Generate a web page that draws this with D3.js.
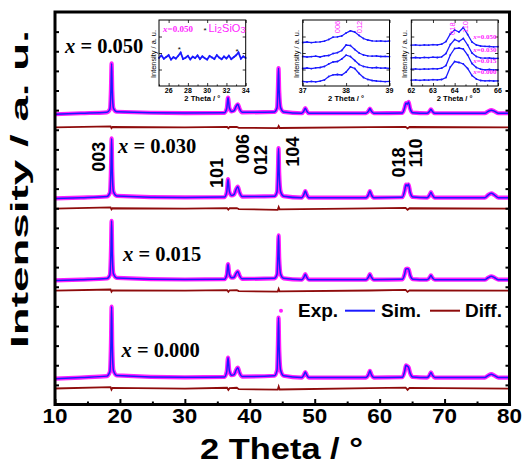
<!DOCTYPE html>
<html>
<head>
<meta charset="utf-8">
<script src="https://cdn.jsdelivr.net/npm/d3@7"></script>
<style>
    body { margin: 0; background: #ffffff; }
    svg  { display: block; }
</style>
</head>
<body>
<svg id="my_svg_element" width="525" height="465"></svg>
<script>
// ---------------------------  DATA  ---------------------------
// Rietveld refinement of four samples; one fitted profile per sample
const sample_names  = ["0.000", "0.015", "0.030", "0.050"];
const base_offsets  = [6.87, 31.8, 52.7, 74.2];     // vertical stacking of Exp./Sim.
const diff_offsets  = [4.07, 29.0, 49.9, 70.6];     // vertical stacking of Diff.

const two_theta = [10, 14, 18.0, 18.45, 18.62, 18.72, 18.82, 19.0, 19.5, 30,
    36.1, 36.45, 36.65, 36.85, 37.2, 37.6, 37.85, 38.15, 38.45, 38.8,
    43.8, 44.2, 44.33, 44.43, 44.53, 44.75, 45.2,
    48.0, 48.35, 48.55, 48.75, 49.1,
    57.9, 58.3, 58.5, 58.7, 59.1,
    63.5, 63.85, 64.05, 64.25, 64.45, 64.7, 65.1,
    67.3, 67.7, 67.9, 68.1, 68.5,
    76.2, 76.7, 77.2, 77.7, 78.3, 80];

const profile_000 = [-0.3, 0, 0.36, 1.45, 9.05, 18.1, 8.15, 1.81, 0.54, 0.05,
    0.15, 1.53, 5.1, 1.79, 0.6, 0.75, 1.75, 2.5, 1.13, 0.25,
    0.46, 1.84, 8.4, 15.3, 7.65, 1.84, 0.46,
    0, 0.7, 1.4, 0.7, 0,
    0, 0.85, 1.7, 0.85, 0,
    0.09, 1.55, 3.1, 2.9, 2.6, 1.1, 0.15,
    0, 0.65, 1.3, 0.65, 0,
    0, 0.5, 0.85, 0.5, 0, 0];

const profile_015 = [-0.2, 0, 0.3, 1.2, 7.5, 15.0, 6.75, 1.5, 0.45, 0.05,
    0.12, 1.2, 4.0, 1.4, 0.5, 0.63, 1.47, 2.1, 0.95, 0.21,
    0.34, 1.36, 6.2, 11.3, 5.65, 1.36, 0.34,
    0, 0.7, 1.4, 0.7, 0,
    0, 0.7, 1.4, 0.7, 0,
    0.08, 1.4, 2.75, 2.8, 2.75, 1.12, 0.14,
    0, 0.55, 1.1, 0.55, 0,
    0, 0.5, 0.85, 0.5, 0, 0];

const profile_030 = [-0.2, 0, 0.3, 1.21, 7.55, 15.1, 6.8, 1.51, 0.45, 0.05,
    0.14, 1.41, 4.7, 1.65, 0.56, 0.84, 1.96, 2.8, 1.26, 0.28,
    0.38, 1.51, 6.93, 12.6, 6.3, 1.51, 0.38,
    0, 0.85, 1.7, 0.85, 0,
    0, 0.85, 1.7, 0.85, 0,
    0.1, 1.7, 3.3, 3.0, 3.4, 1.36, 0.17,
    0, 0.7, 1.4, 0.7, 0,
    0, 0.66, 1.1, 0.66, 0, 0];

const profile_050 = [-0.25, 0, 0.25, 1.02, 6.35, 12.7, 5.72, 1.27, 0.38, 0.05,
    0.12, 1.2, 4.0, 1.4, 0.48, 0.69, 1.61, 2.3, 1.04, 0.23,
    0.35, 1.38, 6.33, 11.5, 5.75, 1.38, 0.35,
    0, 0.65, 1.3, 0.65, 0,
    0, 0.6, 1.2, 0.6, 0,
    0.09, 1.4, 2.6, 2.3, 2.9, 1.16, 0.15,
    0, 0.5, 1.0, 0.5, 0,
    0, 0.48, 0.8, 0.48, 0, 0];

const diff_theta = [10, 18.55, 18.7, 18.85, 30, 36.5, 36.7, 36.9, 38.0, 38.3, 44.3, 44.45, 44.6, 58.5, 64.0, 64.3, 64.6, 80];
const diff_000 = [0, 0.35, -0.3, 0.15, 0, 0.2, -0.35, 0.1, 0.2, -0.15, -0.3, 0.5, -0.25, 0.1, 0.25, -0.35, 0.15, 0];
const diff_015 = [0, 0.3, -0.25, 0.1, 0, 0.15, -0.3, 0.1, 0.15, -0.1, -0.25, 0.45, -0.2, 0.05, 0.2, -0.3, 0.1, 0];
const diff_030 = [0, 0.3, -0.2, 0.1, 0, 0.15, -0.25, 0.1, 0.15, -0.1, -0.3, 0.4, -0.2, 0.05, 0.2, -0.3, 0.1, 0];
const diff_050 = [0, 0.25, -0.2, 0.1, 0, 0.15, -0.2, 0.1, 0.1, -0.1, -0.2, 0.35, -0.15, 0.05, 0.15, -0.25, 0.1, 0];

const hkl_labels = ["003", "101", "006", "012", "104", "018", "110"];
const x_major_ticks = [10, 20, 30, 40, 50, 60, 70, 80];
const x_minor_ticks = [15, 25, 35, 45, 55, 65, 75];

// Inset 1: Li2SiO3 impurity scan of x = 0.050
const li_theta = [25, 25.25, 25.5, 25.75, 26, 26.25, 26.5, 26.75, 27, 27.25, 27.5, 27.75, 28, 28.25, 28.5, 28.75,
    29, 29.25, 29.5, 29.75, 30, 30.25, 30.5, 30.75, 31, 31.25, 31.5, 31.75, 32, 32.25, 32.5, 32.75,
    33, 33.25, 33.5, 33.75, 34];
const li_counts = [28.0, 30.5, 27.2, 29.0, 30.8, 26.4, 28.9, 27.5, 30.2, 33.4, 27.0, 28.2, 30.1, 26.6, 29.4, 28.0,
    30.6, 26.9, 29.7, 27.8, 26.5, 30.0, 28.6, 27.1, 30.9, 28.4, 26.8, 29.5, 27.6, 30.4, 26.9, 28.8,
    30.7, 33.5, 27.3, 29.6, 28.1];
const li_marks = [[27.1, 37.0], [33.1, 35.5]];

// Inset 2: 006 / 012 region
const theta_0012 = [37.0, 37.1, 37.2, 37.3, 37.4, 37.5, 37.6, 37.7, 37.8, 37.9, 38.0,
    38.1, 38.2, 38.3, 38.4, 38.5, 38.6, 38.7, 38.8, 38.9, 39.0];
const zoom_0012_050 = [43.5, 44.0, 43.4, 43.9, 44.2, 44.8, 46.5, 48.8, 49.2, 50.0, 53.0, 55.2, 54.0, 50.5, 47.5, 46.0, 45.2, 44.8, 45.1, 44.7, 45.0];
const zoom_0012_030 = [29.5, 29.0, 29.4, 29.8, 29.0, 30.2, 30.5, 32.5, 33.3, 35.5, 41.0, 40.5, 36.5, 33.0, 31.0, 30.2, 29.8, 30.0, 29.5, 29.7, 29.4];
const zoom_0012_015 = [17.5, 18.0, 17.4, 18.2, 18.5, 19.5, 22.0, 24.0, 24.5, 27.0, 30.8, 29.5, 25.5, 21.5, 19.5, 18.7, 18.2, 18.5, 17.8, 18.0, 17.6];
const zoom_0012_000 = [4.5, 4.1, 4.6, 4.2, 4.8, 6.0, 9.5, 11.2, 11.5, 11.0, 14.0, 19.2, 17.5, 12.5, 8.5, 6.5, 5.5, 5.0, 4.7, 4.4, 4.6];

// Inset 3: 018 / 110 region
const theta_0181 = [62.0, 62.2, 62.4, 62.6, 62.8, 63.0, 63.2, 63.4, 63.6, 63.8, 64.0,
    64.2, 64.4, 64.6, 64.8, 65.0, 65.2, 65.4, 65.6, 65.8, 66.0];
const zoom_0181_050 = [40.8, 41.2, 40.7, 41.1, 40.8, 41.4, 41.1, 41.8, 44.5, 52.0, 56.0, 54.0, 58.5, 51.5, 44.0, 41.0, 40.0, 39.7, 39.5, 39.2, 39.3];
const zoom_0181_030 = [28.2, 28.5, 28.1, 28.6, 28.3, 28.8, 28.5, 29.2, 32.5, 41.5, 46.5, 44.5, 47.5, 41.0, 33.0, 29.5, 28.2, 27.8, 28.0, 27.5, 27.7];
const zoom_0181_015 = [16.8, 17.2, 16.7, 17.1, 16.9, 17.4, 17.1, 17.8, 20.5, 31.0, 37.5, 38.0, 37.0, 31.0, 22.5, 18.5, 16.8, 16.2, 16.5, 16.0, 16.2];
const zoom_0181_000 = [5.8, 6.2, 5.7, 6.1, 5.9, 6.4, 6.1, 6.5, 8.5, 19.0, 24.5, 23.5, 22.0, 17.5, 10.5, 7.0, 5.5, 5.2, 5.4, 5.0, 5.2];

// ---------------------------  STYLE  ---------------------------
const EXP_COLOR  = "#ff1eff";
const SIM_COLOR  = "#1a1aff";
const DIFF_COLOR = "#8e0b0b";
const SANS  = "'Liberation Sans', Arial, sans-serif";
const SERIF = "'Liberation Serif', 'Times New Roman', serif";

const svg = d3.select("#my_svg_element");
const plot = { left: 55, right: 509.5, top: 12, bottom: 404.5 };

// Build the main scales
const x_scale = d3.scaleLinear().domain([10, 80]).range([plot.left, plot.right]);
const y_scale = d3.scaleLinear().domain([0, 100]).range([plot.bottom, plot.top]);

svg.append("defs").append("clipPath").attr("id", "plot_clip")
   .append("rect")
   .attr("x", plot.left).attr("y", plot.top)
   .attr("width", plot.right - plot.left).attr("height", plot.bottom - plot.top);

const curves = svg.append("g").attr("clip-path", "url(#plot_clip)");

const profiles = [profile_000, profile_015, profile_030, profile_050];
const diffs    = [diff_000, diff_015, diff_030, diff_050];

profiles.forEach(function(profile, i) {
    const pts  = two_theta.map((t, k) => [t, profile[k]]);
    const dpts = diff_theta.map((t, k) => [t, diffs[i][k]]);
    const line = d3.line()
        .x(d => x_scale(d[0]))
        .y(d => y_scale(d[1] + base_offsets[i]))
        .curve(d3.curveMonotoneX);
    const dline = d3.line()
        .x(d => x_scale(d[0]))
        .y(d => y_scale(d[1] + diff_offsets[i]));

    // Diff.
    curves.append("path").attr("d", dline(dpts))
          .attr("fill", "none").attr("stroke", DIFF_COLOR).attr("stroke-width", 1.8);
    // Exp. (dense points -> magenta band)
    curves.append("path").attr("d", line(pts))
          .attr("fill", "none").attr("stroke", EXP_COLOR).attr("stroke-width", 4.2)
          .attr("stroke-linejoin", "round").attr("stroke-linecap", "round");
    // Sim.
    curves.append("path").attr("d", line(pts))
          .attr("fill", "none").attr("stroke", SIM_COLOR).attr("stroke-width", 1.5)
          .attr("stroke-linejoin", "round");
});

// Sample labels  "x = 0.xxx"
const sample_label_pos = [[121.5, 357], [123, 261], [118, 153], [65, 53]];
sample_names.forEach(function(name, i) {
    const t = svg.append("text")
        .attr("x", sample_label_pos[i][0]).attr("y", sample_label_pos[i][1])
        .attr("font-family", SERIF).attr("font-weight", "bold").attr("font-size", 20.5)
        .attr("fill", "#000");
    t.append("tspan").attr("font-style", "italic").text("x");
    t.append("tspan").text(" = " + name);
});

// Miller indices, rotated
const hkl_pos = [[104.8, 156.7], [223.2, 173], [248.8, 149], [266.5, 160], [299.2, 151.7], [404.8, 162.5], [421.5, 153]];
hkl_labels.forEach(function(lbl, i) {
    svg.append("text")
       .attr("transform", `translate(${hkl_pos[i][0]},${hkl_pos[i][1]}) rotate(-90)`)
       .attr("text-anchor", "middle")
       .attr("font-family", SANS).attr("font-weight", "bold").attr("font-size", 18)
       .text(lbl);
});

// Legend
const legend = svg.append("g").attr("font-family", SANS).attr("font-weight", "bold").attr("font-size", 19);
legend.append("circle").attr("cx", 281).attr("cy", 310.7).attr("r", 2).attr("fill", EXP_COLOR);
legend.append("text").attr("x", 298).attr("y", 317).text("Exp.");
legend.append("line").attr("x1", 345).attr("x2", 375).attr("y1", 310.7).attr("y2", 310.7)
      .attr("stroke", SIM_COLOR).attr("stroke-width", 2);
legend.append("text").attr("x", 381).attr("y", 317).text("Sim.");
legend.append("line").attr("x1", 430).attr("x2", 460).attr("y1", 310.7).attr("y2", 310.7)
      .attr("stroke", DIFF_COLOR).attr("stroke-width", 2);
legend.append("text").attr("x", 465).attr("y", 317).text("Diff.");

// ---------------------------  INSETS  ---------------------------
function draw_inset(cfg) {
    const g = svg.append("g");
    const ix = d3.scaleLinear().domain(cfg.x_domain).range([cfg.left, cfg.right]);
    const iy = d3.scaleLinear().domain([0, 66]).range([cfg.bottom, cfg.top]);

    g.append("rect").attr("x", cfg.left).attr("y", cfg.top)
     .attr("width", cfg.right - cfg.left).attr("height", cfg.bottom - cfg.top)
     .attr("fill", "#fff");

    const iline = d3.line().x(d => ix(d[0])).y(d => iy(d[1]));
    cfg.series.forEach(function(vals) {
        const pts = cfg.theta.map((t, k) => [t, vals[k]]);
        g.append("path").attr("d", iline(pts))
         .attr("fill", "none").attr("stroke", SIM_COLOR).attr("stroke-width", cfg.line_width);
        g.selectAll(null).data(pts).join("circle")
         .attr("cx", d => ix(d[0])).attr("cy", d => iy(d[1])).attr("r", 0.9)
         .attr("fill", SIM_COLOR);
    });

    // Axes: ticks point inward on all four sides
    const bottom_axis = d3.axisBottom(ix).tickValues(cfg.major).tickSizeInner(-3).tickSizeOuter(0).tickFormat("");
    const bottom_minor = d3.axisBottom(ix).tickValues(cfg.minor).tickSizeInner(-1.6).tickSizeOuter(0).tickFormat("");
    const top_axis = d3.axisTop(ix).tickValues(cfg.major).tickSizeInner(-3).tickSizeOuter(0).tickFormat("");
    const left_axis = d3.axisLeft(iy).tickValues([16.5, 33, 49.5]).tickSizeInner(-3).tickSizeOuter(0).tickFormat("");
    const right_axis = d3.axisRight(iy).tickValues([16.5, 33, 49.5]).tickSizeInner(-3).tickSizeOuter(0).tickFormat("");
    g.append("g").attr("transform", `translate(0,${cfg.bottom})`).call(bottom_axis);
    g.append("g").attr("transform", `translate(0,${cfg.bottom})`).call(bottom_minor);
    g.append("g").attr("transform", `translate(0,${cfg.top})`).call(top_axis);
    g.append("g").attr("transform", `translate(${cfg.left},0)`).call(left_axis);
    g.append("g").attr("transform", `translate(${cfg.right},0)`).call(right_axis);
    g.selectAll(".domain").remove();
    g.selectAll(".tick line").attr("stroke", "#000").attr("stroke-width", 0.8);

    g.append("rect").attr("x", cfg.left).attr("y", cfg.top)
     .attr("width", cfg.right - cfg.left).attr("height", cfg.bottom - cfg.top)
     .attr("fill", "none").attr("stroke", "#000").attr("stroke-width", 1);

    // Tick labels
    g.selectAll(null).data(cfg.major).join("text")
     .attr("x", d => ix(d)).attr("y", cfg.bottom + 6.5)
     .attr("text-anchor", "middle")
     .attr("font-family", SANS).attr("font-weight", "bold").attr("font-size", 7)
     .text(d => d);

    g.append("text").attr("x", (cfg.left + cfg.right) / 2).attr("y", cfg.bottom + 15)
     .attr("text-anchor", "middle")
     .attr("font-family", SANS).attr("font-weight", "bold").attr("font-size", 7.6)
     .text("2 Theta / \u00B0");

    g.append("text")
     .attr("transform", `translate(${cfg.ylabel_x},${(cfg.top + cfg.bottom) / 2 + 1}) rotate(-90)`)
     .attr("text-anchor", "middle")
     .attr("font-family", SANS).attr("font-size", 7.4)
     .text("Intensity / a. u.");

    return { g: g, ix: ix, iy: iy };
}

// Inset 1 : Li2SiO3
const inset1 = draw_inset({
    left: 159, right: 245.7, top: 20, bottom: 86, x_domain: [25, 34],
    theta: li_theta, series: [li_counts], line_width: 1.8,
    major: [26, 28, 30, 32, 34], minor: [25, 27, 29, 31, 33], ylabel_x: 155.5
});
inset1.g.selectAll(null).data(li_marks).join("text")
    .attr("x", d => inset1.ix(d[0])).attr("y", d => inset1.iy(d[1]) + 3)
    .attr("text-anchor", "middle").attr("font-family", SANS).attr("font-size", 8)
    .text("*");
const inset1_title = inset1.g.append("text").attr("x", 163).attr("y", 31.5)
    .attr("font-family", SERIF).attr("font-weight", "bold").attr("font-size", 9)
    .attr("fill", EXP_COLOR);
inset1_title.append("tspan").attr("font-style", "italic").text("x");
inset1_title.append("tspan").text("=0.050");
inset1.g.append("text").attr("x", 203.5).attr("y", 33).attr("font-family", SANS)
    .attr("font-size", 8).text("*");
const li_text = inset1.g.append("text").attr("x", 208.5).attr("y", 31.5)
    .attr("font-family", SANS).attr("font-size", 11).attr("fill", EXP_COLOR);
li_text.append("tspan").text("Li");
li_text.append("tspan").attr("font-size", 9).attr("dy", 1.5).text("2");
li_text.append("tspan").attr("dy", -1.5).text("SiO");
li_text.append("tspan").attr("font-size", 9).attr("dy", 1.5).text("3");

// Inset 2 : 006 / 012
const inset2 = draw_inset({
    left: 302.7, right: 389.5, top: 20, bottom: 86, x_domain: [37, 39],
    theta: theta_0012, series: [zoom_0012_050, zoom_0012_030, zoom_0012_015, zoom_0012_000], line_width: 1.3,
    major: [37, 38, 39], minor: [37.5, 38.5], ylabel_x: 298.5
});
[["006", 37.8], ["012", 38.3]].forEach(function(d) {
    inset2.g.append("text")
        .attr("transform", `translate(${inset2.ix(d[1]) + 2.6},27) rotate(-90)`)
        .attr("text-anchor", "middle").attr("font-family", SANS).attr("font-size", 7.5)
        .attr("fill", EXP_COLOR).text(d[0]);
});

// Inset 3 : 018 / 110
const inset3 = draw_inset({
    left: 411.3, right: 498, top: 20, bottom: 86, x_domain: [62, 66],
    theta: theta_0181, series: [zoom_0181_050, zoom_0181_030, zoom_0181_015, zoom_0181_000], line_width: 1.3,
    major: [62, 63, 64, 65, 66], minor: [62.5, 63.5, 64.5, 65.5], ylabel_x: 406.5
});
[["018", 63.9, 28.7], ["110", 64.5, 27]].forEach(function(d) {
    inset3.g.append("text")
        .attr("transform", `translate(${inset3.ix(d[1]) + 2.6},${d[2]}) rotate(-90)`)
        .attr("text-anchor", "middle").attr("font-family", SANS).attr("font-size", 7.5)
        .attr("fill", EXP_COLOR).text(d[0]);
});
const inset3_label_y = [74, 63.3, 51.7, 39.3];
sample_names.forEach(function(name, i) {
    const t = inset3.g.append("text").attr("x", 496.5).attr("y", inset3_label_y[i])
        .attr("text-anchor", "end")
        .attr("font-family", SERIF).attr("font-weight", "bold").attr("font-size", 7)
        .attr("fill", EXP_COLOR);
    t.append("tspan").attr("font-style", "italic").text("x");
    t.append("tspan").text("=" + name);
});

// ---------------------------  MAIN AXES  ---------------------------
const axes = svg.append("g");
axes.append("g").attr("transform", `translate(0,${plot.bottom})`)
    .call(d3.axisBottom(x_scale).tickValues(x_major_ticks).tickSizeInner(-5.5).tickSizeOuter(0).tickFormat(""));
axes.append("g").attr("transform", `translate(0,${plot.bottom})`)
    .call(d3.axisBottom(x_scale).tickValues(x_minor_ticks).tickSizeInner(-3).tickSizeOuter(0).tickFormat(""));
const y_tick_values = d3.range(5, 100, 5);
axes.append("g").attr("transform", `translate(${plot.left},0)`)
    .call(d3.axisLeft(y_scale).tickValues(y_tick_values).tickSizeInner(-4).tickSizeOuter(0).tickFormat(""));
axes.append("g").attr("transform", `translate(${plot.right},0)`)
    .call(d3.axisRight(y_scale).tickValues(y_tick_values).tickSizeInner(-4).tickSizeOuter(0).tickFormat(""));
axes.selectAll(".domain").remove();
axes.selectAll(".tick line").attr("stroke", "#000").attr("stroke-width", 2);

// Frame
svg.append("rect")
   .attr("x", plot.left).attr("y", plot.top)
   .attr("width", plot.right - plot.left).attr("height", plot.bottom - plot.top)
   .attr("fill", "none").attr("stroke", "#000").attr("stroke-width", 3);

// X tick labels
svg.append("g").selectAll("text").data(x_major_ticks).join("text")
   .attr("x", d => x_scale(d)).attr("y", 423)
   .attr("text-anchor", "middle")
   .attr("font-family", SANS).attr("font-weight", "bold").attr("font-size", 20.5)
   .attr("textLength", 25).attr("lengthAdjust", "spacingAndGlyphs")
   .text(d => d);

// Axis titles
svg.append("text").attr("x", 281.5).attr("y", 458.5)
   .attr("text-anchor", "middle")
   .attr("font-family", SANS).attr("font-weight", "bold").attr("font-size", 30)
   .attr("textLength", 163).attr("lengthAdjust", "spacingAndGlyphs")
   .text("2 Theta / \u00B0");

svg.append("text")
   .attr("transform", "translate(28,189) rotate(-90)")
   .attr("text-anchor", "middle")
   .attr("font-family", SANS).attr("font-weight", "bold").attr("font-size", 24)
   .attr("textLength", 318).attr("lengthAdjust", "spacingAndGlyphs")
   .text("Intensity / a. u.");
</script>
</body>
</html>
